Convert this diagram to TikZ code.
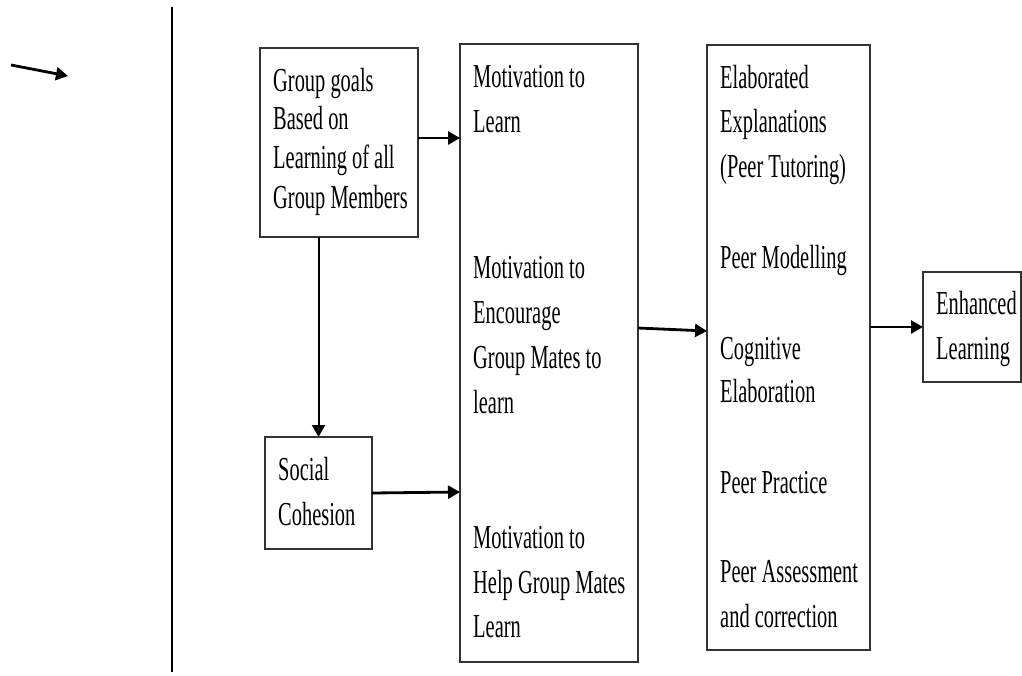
\documentclass[tikz,border=0pt]{standalone}
\usepackage{fontspec}
\setmainfont{Liberation Serif}[FakeStretch=0.61]
\usetikzlibrary{arrows.meta}
\begin{document}
\begin{tikzpicture}[x=1pt,y=-1pt,
  box/.style={draw=black!80,line width=1.1pt,inner sep=0pt,outer sep=0pt,anchor=north west},
  txt/.style={anchor=base west,inner sep=0pt,font=\fontsize{33.5}{45}\selectfont},
  arr/.style={line width=2.8pt,-{Triangle[length=12pt,width=13pt]}},
  rule/.style={line width=2.2pt}]
\useasboundingbox (0,0) rectangle (1022,675);
% boxes
\node[box,minimum width=158pt,minimum height=189pt] (goals) at (260,48) {};
\node[box,minimum width=107pt,minimum height=112pt] (cohesion) at (265,437) {};
\node[box,minimum width=178pt,minimum height=618pt] (motiv) at (460,44) {};
\node[box,minimum width=163pt,minimum height=605pt] (elab) at (707,45) {};
\node[box,minimum width=98pt,minimum height=110pt] (enh) at (923,272) {};
% texts
\node[txt] (g1) at (273,91) {Group goals};
\node[txt] (g2) at (273,129) {Based on};
\node[txt] (g3) at (273,168) {Learning of all};
\node[txt] (g4) at (273,208) {Group Members};
\node[txt] (s1) at (278,480) {Social};
\node[txt] (s2) at (278,525) {Cohesion};
\node[txt] (m1) at (473,87) {Motivation to};
\node[txt] (m2) at (473,132) {Learn};
\node[txt] (m3) at (473,278) {Motivation to};
\node[txt] (m4) at (473,323) {Encourage};
\node[txt] (m5) at (473,368) {Group Mates to};
\node[txt] (m6) at (473,413) {learn};
\node[txt] (m7) at (473,548) {Motivation to};
\node[txt] (m8) at (473,593) {Help Group Mates};
\node[txt] (m9) at (473,637) {Learn};
\node[txt] (e1) at (720,88) {Elaborated};
\node[txt] (e2) at (720,132) {Explanations};
\node[txt] (e3) at (720,177) {(Peer Tutoring)};
\node[txt] (e4) at (720,268) {Peer Modelling};
\node[txt] (e5) at (720,359) {Cognitive};
\node[txt] (e6) at (720,402) {Elaboration};
\node[txt] (e7) at (720,493) {Peer Practice};
\node[txt] (e8) at (720,582) {Peer Assessment};
\node[txt] (e9) at (720,627) {and correction};
\node[txt] (h1) at (936,314) {Enhanced};
\node[txt] (h2) at (936,359) {Learning};
% free-standing marks
\coordinate (v1) at (172,7);
\coordinate (v2) at (172,672);
\draw[rule] (v1) -- (v2);
\coordinate (a1) at (11,65);
\coordinate (a2) at (68,76);
\draw[arr] (a1) -- (a2);
% connectors
\draw[arr] ([yshift=-90pt]goals.north east) -- ([yshift=-94pt]motiv.north west);
\draw[arr,line width=2pt] (goals.south -| cohesion.north) -- (cohesion.north);
\draw[arr] (cohesion.east) -- ([yshift=-448pt]motiv.north west);
\draw[arr] ([yshift=-284pt]motiv.north east) -- ([yshift=-286pt]elab.north west);
\draw[arr] ([yshift=-282pt]elab.north east) -- (enh.west);
\end{tikzpicture}
\end{document}
